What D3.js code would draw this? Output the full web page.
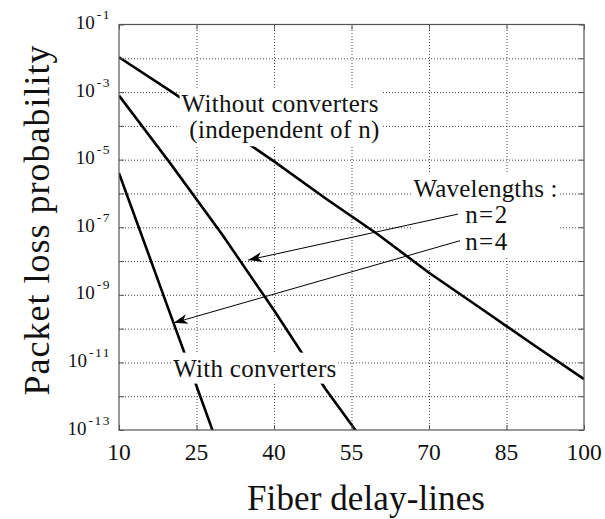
<!DOCTYPE html>
<html>
<head>
<meta charset="utf-8">
<script src="https://cdn.jsdelivr.net/npm/d3@7"></script>
<style>
  body { margin: 0; background: #fff; }
  svg { display: block; }
  svg text { font-family: "Liberation Serif", "Times New Roman", serif; }
</style>
</head>
<body>
<div id="chart"></div>
<script>
// number of fiber delay-lines vs packet loss probability
const withoutX = [10, 20, 30, 40, 50, 60, 70, 80, 90, 100];
const withoutY = [1.07e-2, 1.07e-3, 1.0e-4, 8.9e-6, 7.1e-7, 6.3e-8, 4.5e-9, 4.0e-10, 3.5e-11, 3.2e-12];
const n2X = [10, 20, 30, 40, 50, 56];
const n2Y = [7.9e-4, 7.5e-6, 6.0e-8, 3.5e-10, 1.6e-12, 8.9e-14];
const n4X = [10, 15, 20, 25, 28.2];
const n4Y = [4.0e-6, 3.2e-8, 2.5e-10, 2.0e-12, 8.9e-14];

const xTicks = [10, 25, 40, 55, 70, 85, 100];
const yTickExp = [-1, -3, -5, -7, -9, -11, -13];
const yGridExp = [-2, -3, -4, -5, -6, -7, -8, -9, -10, -11, -12];

const serif = '"Liberation Serif", "Times New Roman", serif';

const W = 605, H = 519;
const margin = { top: 24.5, right: 21, bottom: 89, left: 119 };
const width = W - margin.left - margin.right;
const height = H - margin.top - margin.bottom;

const svg = d3.select("#chart").append("svg")
    .attr("width", W)
    .attr("height", H)
    .append("g")
    .attr("transform", `translate(${margin.left},${margin.top})`);

const x = d3.scaleLinear().domain([10, 100]).range([0, width]);
const y = d3.scaleLog().domain([1e-13, 1e-1]).range([height, 0]);

// dotted grid
svg.append("g")
    .attr("transform", `translate(0,${height})`)
    .call(d3.axisBottom(x).tickValues(xTicks.slice(1, -1)).tickSize(-height).tickFormat(""))
    .call(g => g.select(".domain").remove())
    .selectAll("line")
    .attr("stroke", "#444")
    .attr("stroke-dasharray", "1,2");

svg.append("g")
    .call(d3.axisLeft(y).tickValues(yGridExp.map(e => Math.pow(10, e))).tickSize(-width).tickFormat(""))
    .call(g => g.select(".domain").remove())
    .selectAll("line")
    .attr("stroke", "#444")
    .attr("stroke-dasharray", "1,2");

// curves
svg.append("clipPath").attr("id", "plotClip")
    .append("rect").attr("width", width).attr("height", height);

const line = d3.line().x(d => x(d[0])).y(d => y(d[1]));
const series = [
    d3.zip(withoutX, withoutY),
    d3.zip(n2X, n2Y),
    d3.zip(n4X, n4Y)
];
svg.append("g").attr("clip-path", "url(#plotClip)")
    .selectAll("path")
    .data(series)
    .join("path")
    .attr("d", line)
    .attr("fill", "none")
    .attr("stroke", "#000")
    .attr("stroke-width", 2.6);

// frame and inward ticks
svg.append("rect")
    .attr("width", width).attr("height", height)
    .attr("fill", "none").attr("stroke", "#555").attr("stroke-width", 1.2);

const tickLen = 5;
svg.append("g").attr("transform", `translate(0,${height})`)
    .call(d3.axisBottom(x).tickValues(xTicks).tickSize(-tickLen).tickFormat(""))
    .call(g => g.select(".domain").remove())
    .selectAll("line").attr("stroke", "#555");
svg.append("g")
    .call(d3.axisTop(x).tickValues(xTicks).tickSize(-tickLen).tickFormat(""))
    .call(g => g.select(".domain").remove())
    .selectAll("line").attr("stroke", "#555");
const allExp = [-1].concat(yGridExp, [-13]).map(e => Math.pow(10, e));
svg.append("g")
    .call(d3.axisLeft(y).tickValues(allExp).tickSize(-tickLen).tickFormat(""))
    .call(g => g.select(".domain").remove())
    .selectAll("line").attr("stroke", "#555");
svg.append("g").attr("transform", `translate(${width},0)`)
    .call(d3.axisRight(y).tickValues(allExp).tickSize(-tickLen).tickFormat(""))
    .call(g => g.select(".domain").remove())
    .selectAll("line").attr("stroke", "#555");

// tick labels
svg.append("g").selectAll("text")
    .data(xTicks)
    .join("text")
    .attr("x", d => x(d))
    .attr("y", height + 30)
    .attr("text-anchor", "middle")
    .attr("font-family", serif)
    .attr("font-size", 23.5)
    .attr("fill", "#111")
    .text(d => d);

const yLab = svg.append("g").selectAll("text")
    .data(yTickExp)
    .join("text")
    .attr("x", -8)
    .attr("y", d => y(Math.pow(10, d)) + 4.5)
    .attr("text-anchor", "end")
    .attr("font-family", serif)
    .attr("font-size", 19)
    .attr("fill", "#111");
yLab.append("tspan").text("10");
yLab.append("tspan")
    .attr("dx", 2).attr("dy", -10)
    .attr("font-size", 13.5)
    .attr("letter-spacing", 1.5)
    .text(d => "-" + Math.abs(d));

// axis titles
svg.append("text")
    .attr("x", x(57.8))
    .attr("y", height + 80)
    .attr("text-anchor", "middle")
    .attr("font-family", serif)
    .attr("font-size", 35)
    .attr("fill", "#111")
    .attr("textLength", 238)
    .attr("lengthAdjust", "spacing")
    .text("Fiber delay-lines");

svg.append("text")
    .attr("transform", `translate(${49 - margin.left},${y(Math.pow(10, -6.8))}) rotate(-90)`)
    .attr("text-anchor", "middle")
    .attr("font-family", serif)
    .attr("font-size", 36)
    .attr("fill", "#111")
    .attr("textLength", 350)
    .attr("lengthAdjust", "spacing")
    .text("Packet loss probability");

// annotations with white background
function note(lines, pad) {
    const g = svg.append("g");
    const bg = g.append("rect").attr("fill", "#fff");
    lines.forEach(l => {
        g.append("text")
            .attr("x", x(l.x))
            .attr("y", y(l.y))
            .attr("font-family", serif)
            .attr("font-size", 25)
            .attr("fill", "#111")
            .attr("textLength", l.len)
            .attr("lengthAdjust", "spacing")
            .text(l.text);
    });
    const b = g.node().getBBox();
    bg.attr("x", b.x - pad).attr("y", b.y - pad)
        .attr("width", b.width + 2 * pad).attr("height", b.height + 2 * pad);
    return g;
}

note([
    { text: "Without converters", x: 22.1, y: 2.6e-4, len: 197 },
    { text: "(independent of n)", x: 23.6, y: 4.3e-5, len: 190 }
], 2);

note([
    { text: "With converters", x: 20.5, y: 3.8e-12, len: 163 }
], 2);

note([
    { text: "Wavelengths :", x: 67.0, y: 7.8e-7, len: 144 },
    { text: "n=2", x: 77.0, y: 1.32e-7, len: 42 },
    { text: "n=4", x: 77.0, y: 2.14e-8, len: 42 }
], 2);

// arrows pointing to the two "with converters" curves
const arrowFrom = [[75.6, 2.45e-7], [76.0, 4.0e-8]];
const arrowTo = [[35.0, 1.07e-8], [20.6, 1.48e-10]];

svg.append("defs").append("marker")
    .attr("id", "head")
    .attr("viewBox", "-14 -6 16 12")
    .attr("refX", 0).attr("refY", 0)
    .attr("markerWidth", 16).attr("markerHeight", 12)
    .attr("markerUnits", "userSpaceOnUse")
    .attr("orient", "auto")
    .append("path")
    .attr("d", "M0,0L-14,-5L-10,0L-14,5Z")
    .attr("fill", "#000");

svg.append("g").selectAll("line")
    .data(d3.zip(arrowFrom, arrowTo))
    .join("line")
    .attr("x1", d => x(d[0][0])).attr("y1", d => y(d[0][1]))
    .attr("x2", d => x(d[1][0])).attr("y2", d => y(d[1][1]))
    .attr("stroke", "#000")
    .attr("stroke-width", 1)
    .attr("marker-end", "url(#head)");
</script>
</body>
</html>
